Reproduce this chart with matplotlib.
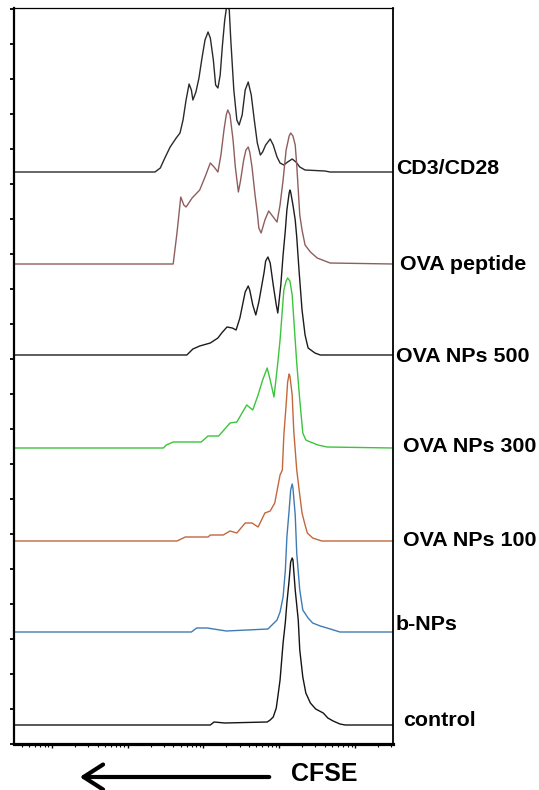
import matplotlib
matplotlib.use('Agg')
import matplotlib.pyplot as plt
import numpy as np

plt.rcParams['font.family'] = ['Liberation Sans', 'DejaVu Sans']

# CFSE intensity (log10 units) and event counts above each baseline
cd3_x = [0.5, 2.36, 2.43, 2.49, 2.56, 2.64, 2.69, 2.73, 2.77, 2.81,
         2.84, 2.86, 2.90, 2.94, 2.98, 3.02, 3.06, 3.09, 3.13, 3.16,
         3.19, 3.22, 3.25, 3.28, 3.31, 3.34, 3.36, 3.40, 3.44, 3.47,
         3.51, 3.55, 3.59, 3.63, 3.67, 3.71, 3.75, 3.78, 3.82, 3.88,
         3.92, 3.97, 4.01, 4.06, 4.11, 4.17, 4.22, 4.27, 4.34, 4.60,
         4.67, 5.5]
cd3_y = [0, 0, 4, 14, 25, 34, 39, 52, 72, 88,
         82, 72, 80, 94, 114, 132, 140, 134, 112, 87,
         84, 97, 127, 152, 168, 162, 132, 82, 52, 47,
         57, 82, 90, 77, 52, 29, 17, 20, 27, 33,
         27, 15, 9, 7, 10, 13, 10, 5, 2, 1,
         0, 0]

pep_x = [0.5, 2.60, 2.65, 2.70, 2.74, 2.77, 2.85, 2.95, 3.02, 3.09,
         3.14, 3.19, 3.23, 3.27, 3.30, 3.32, 3.35, 3.39, 3.42, 3.46,
         3.49, 3.53, 3.56, 3.59, 3.61, 3.64, 3.68, 3.71, 3.73, 3.76,
         3.78, 3.81, 3.86, 3.92, 3.97, 4.01, 4.05, 4.09, 4.13, 4.15,
         4.18, 4.21, 4.23, 4.27, 4.30, 4.34, 4.41, 4.50, 4.67, 5.5]
pep_y = [0, 0, 31, 67, 59, 57, 66, 74, 87, 101,
         97, 92, 109, 134, 149, 154, 149, 124, 97, 72,
         84, 104, 114, 117, 112, 97, 69, 51, 36, 31,
         36, 44, 53, 47, 42, 59, 84, 114, 128, 131,
         128, 119, 99, 49, 34, 19, 12, 6, 1, 0]

np500_x = [0.5, 2.78, 2.86, 2.95, 3.09, 3.19, 3.24, 3.31, 3.38, 3.43,
           3.48, 3.55, 3.59, 3.61, 3.65, 3.69, 3.73, 3.77, 3.80, 3.82,
           3.85, 3.88, 3.92, 3.96, 3.98, 4.02, 4.05, 4.08, 4.10, 4.13,
           4.14, 4.15, 4.18, 4.21, 4.23, 4.26, 4.30, 4.34, 4.38, 4.47,
           4.54, 5.5]
np500_y = [0, 0, 6, 9, 12, 17, 22, 28, 27, 25,
           37, 63, 69, 65, 50, 40, 53, 70, 83, 94,
           98, 92, 70, 50, 42, 70, 100, 125, 145, 162,
           165, 163, 150, 135, 118, 85, 45, 20, 7, 2,
           0, 0]

np300_x = [0.5, 2.47, 2.51, 2.60, 2.97, 3.06, 3.20, 3.35, 3.44, 3.57,
           3.65, 3.72, 3.78, 3.84, 3.88, 3.93, 3.98, 4.01, 4.04, 4.06,
           4.09, 4.11, 4.14, 4.17, 4.19, 4.23, 4.27, 4.31, 4.35, 4.41,
           4.51, 4.63, 5.5]
np300_y = [0, 0, 3, 6, 6, 12, 12, 25, 26, 43,
           38, 53, 68, 80, 68, 51, 85, 108, 138, 158,
           167, 170, 167, 153, 130, 85, 48, 15, 8, 6,
           3, 1, 0]

np100_x = [0.5, 2.65, 2.76, 3.06, 3.09, 3.26, 3.35, 3.44, 3.55, 3.64,
           3.72, 3.81, 3.88, 3.94, 3.98, 4.01, 4.04, 4.06, 4.09, 4.11,
           4.13, 4.14, 4.17, 4.19, 4.23, 4.27, 4.30, 4.34, 4.37, 4.44,
           4.56, 5.5]
np100_y = [0, 0, 4, 4, 6, 6, 10, 8, 18, 18,
           14, 28, 30, 38, 54, 66, 71, 106, 136, 159,
           167, 165, 146, 111, 71, 46, 28, 16, 8, 3,
           0, 0]

bnp_x = [0.5, 2.84, 2.91, 3.05, 3.30, 3.85, 3.97, 4.01, 4.05, 4.08,
         4.10, 4.13, 4.15, 4.17, 4.18, 4.21, 4.23, 4.27, 4.31, 4.38,
         4.44, 4.54, 4.63, 4.80, 5.5]
bnp_y = [0, 0, 4, 4, 1, 3, 12, 20, 35, 62,
         95, 122, 142, 148, 144, 117, 79, 42, 22, 14,
         9, 6, 4, 0, 0]

ctrl_x = [0.5, 3.09, 3.14, 3.28, 3.84, 3.88, 3.92, 3.96, 3.98, 4.01,
          4.05, 4.08, 4.10, 4.13, 4.15, 4.17, 4.18, 4.21, 4.25, 4.27,
          4.31, 4.35, 4.41, 4.48, 4.58, 4.64, 4.71, 4.80, 4.87, 5.5]
ctrl_y = [0, 0, 3, 2, 3, 5, 8, 17, 28, 45,
          82, 103, 122, 145, 163, 167, 165, 135, 105, 75,
          48, 32, 22, 16, 12, 7, 4, 1, 0, 0]

labels = ['CD3/CD28', 'OVA peptide', 'OVA NPs 500', 'OVA NPs 300',
          'OVA NPs 100', 'b-NPs', 'control']
offsets = [572, 480, 389, 296, 203, 112, 19]
colors = ['#2a2a2a', '#8e5e5e', '#1c1c1c', '#3cc43c', '#c2683c',
          '#3f7bb3', '#141414']
series = [(cd3_x, cd3_y), (pep_x, pep_y), (np500_x, np500_y),
          (np300_x, np300_y), (np100_x, np100_y), (bnp_x, bnp_y),
          (ctrl_x, ctrl_y)]

# label placement (axes-fraction x, shift in counts from baseline)
label_x = [1.008, 1.018, 1.008, 1.026, 1.026, 1.008, 1.026]
label_dy = [4, 0, -1, 1, 0, 7, 4]

fig = plt.figure(figsize=(5.39, 7.90), dpi=100)
ax = fig.add_axes([14 / 539, 46 / 790, 379 / 539, 736 / 790])

for (xs, ys), off, c in zip(series, offsets, colors):
    ax.plot(xs, np.array(ys) + off, color=c, lw=1.0)

for lab, off, lx, dy in zip(labels, offsets, label_x, label_dy):
    ax.text(lx, off + dy, lab, transform=ax.get_yaxis_transform(),
            ha='left', va='center', fontsize=15.4, fontweight='bold')

ax.set_xlim(0.5, 5.5)
ax.set_ylim(0, 736)
ax.set_yticks(np.arange(0, 736, 35))
ax.set_yticklabels([])
ax.set_xticks([1, 2, 3, 4, 5])
minors = [d + np.log10(k) for d in range(0, 6) for k in range(2, 10)]
ax.set_xticks([m for m in minors if 0.5 < m < 5.5], minor=True)
ax.set_xticklabels([])
ax.tick_params(axis='y', direction='out', length=3, width=1.3, color='black')
ax.tick_params(axis='x', which='major', direction='out', length=3, width=1.0)
ax.tick_params(axis='x', which='minor', direction='out', length=2, width=0.8)

ax.spines['left'].set_linewidth(1.6)
ax.spines['bottom'].set_linewidth(2.3)
ax.spines['right'].set_linewidth(1.3)
ax.spines['top'].set_linewidth(0.9)

# CFSE arrow below the axis
fig.patches.append(matplotlib.patches.FancyArrowPatch(
    (272 / 539, 1 - 777 / 790), (77 / 539, 1 - 777 / 790),
    transform=fig.transFigure, arrowstyle='->,head_length=0.7,head_width=0.45',
    lw=3.0, color='black', mutation_scale=20))
fig.text(324 / 539, 1 - 774 / 790, 'CFSE', ha='center', va='center',
         fontsize=18, fontweight='bold')

fig.savefig('out.png', dpi=100)
